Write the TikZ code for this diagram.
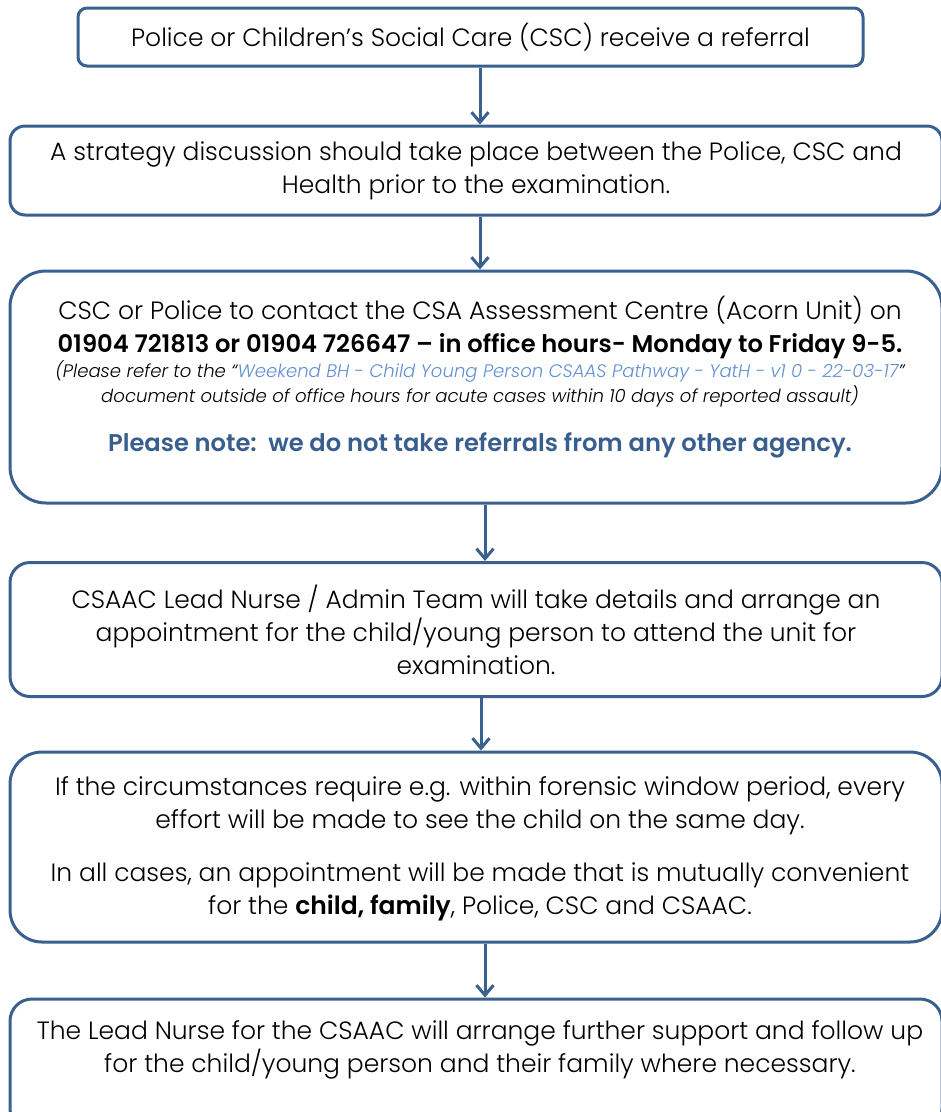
\documentclass[tikz,border=0pt]{standalone}
\usepackage{fontspec}
\setmainfont{Poppins}[UprightFont=* Light,ItalicFont=* Light Italic,BoldFont=* SemiBold,BoldItalicFont=* SemiBold Italic]
\usetikzlibrary{arrows.meta}

\definecolor{boxblue}{RGB}{58,96,143}
\definecolor{linkblue}{RGB}{96,144,210}
\definecolor{noteblue}{RGB}{56,94,142}

\tikzset{
  stepbox/.style={draw=boxblue,line width=3pt,fill=white,inner sep=0pt},
  steptext/.style={align=center,inner sep=0pt,font=\fontsize{25}{33}\selectfont},
  smalltext/.style={align=center,inner sep=0pt,font=\fontsize{18.1}{25}\selectfont\itshape},
  flowarrow/.style={draw=boxblue,line width=3pt,-{Straight Barb[length=10pt,width=17pt]}},
}

\begin{document}
\begin{tikzpicture}[x=1pt,y=-1pt]
        \useasboundingbox (0,0) rectangle (941,1112);

        % Boxes
        \node[stepbox,steptext,rounded corners=9pt,minimum width=785pt,minimum height=58pt] (b1) at (470.5,37)
            {Police or Children’s Social Care (CSC) receive a referral};
        \node[stepbox,steptext,rounded corners=15pt,minimum width=932pt,minimum height=89pt] (b2) at (476,170.5)
            {A strategy discussion should take place between the Police, CSC and\\Health prior to the examination.};
        \node[stepbox,rounded corners=36pt,minimum width=932pt,minimum height=232pt] (b3) at (476,387) {};
        \node[stepbox,steptext,rounded corners=20pt,minimum width=932pt,minimum height=134pt] (b4) at (476,629.5)
            {CSAAC Lead Nurse / Admin Team will take details and arrange an\\appointment for the child/young person to attend the unit for\\examination.};
        \node[stepbox,rounded corners=32pt,minimum width=932pt,minimum height=190pt] (b5) at (476,847) {};
        \node[stepbox,rounded corners=22pt,minimum width=932pt,minimum height=132pt] (b6) at (476,1065) {};

        % Texts of the larger boxes
        \node[steptext] (t3a) at (480,327.5)
            {CSC or Police to contact the CSA Assessment Centre (Acorn Unit) on\\
             {\fontsize{24.2}{33}\selectfont\bfseries 01904 721813 or 01904 726647 – in office hours- Monday to Friday 9-5.}};
        \node[smalltext] (t3b) at (480,384)
            {(Please refer to the “\textcolor{linkblue}{Weekend BH - Child Young Person CSAAS Pathway - YatH - v1 0 - 22-03-17}”\\
             document outside of office hours for acute cases within 10 days of reported assault)};
        \node[steptext,text=noteblue,font=\fontsize{24.2}{33}\selectfont\bfseries] (t3c) at (480,445.5)
            {Please note:\ \ we do not take referrals from any other agency.};

        \node[steptext] (t5a) at (480,805.5)
            {If the circumstances require e.g. within forensic window period, every\\effort will be made to see the child on the same day.};
        \node[steptext] (t5b) at (480,892)
            {In all cases, an appointment will be made that is mutually convenient\\for the \textbf{child, family}, Police, CSC and CSAAC.};

        \node[steptext] (t6) at (480,1049.5)
            {The Lead Nurse for the CSAAC will arrange further support and follow up\\for the child/young person and their family where necessary.};

        % Arrows
        \draw[flowarrow] ([xshift=4pt]b2.north |- b1.south) -- ([xshift=4pt]b2.north);
        \draw[flowarrow] ([xshift=4pt]b2.south) -- ([xshift=4pt]b3.north);
        \draw[flowarrow] ([xshift=9pt]b3.south) -- ([xshift=9pt]b4.north);
        \draw[flowarrow] ([xshift=5pt]b4.south) -- ([xshift=5pt]b5.north);
        \draw[flowarrow] ([xshift=9pt]b5.south) -- ([xshift=9pt]b6.north);

\end{tikzpicture}
\end{document}
